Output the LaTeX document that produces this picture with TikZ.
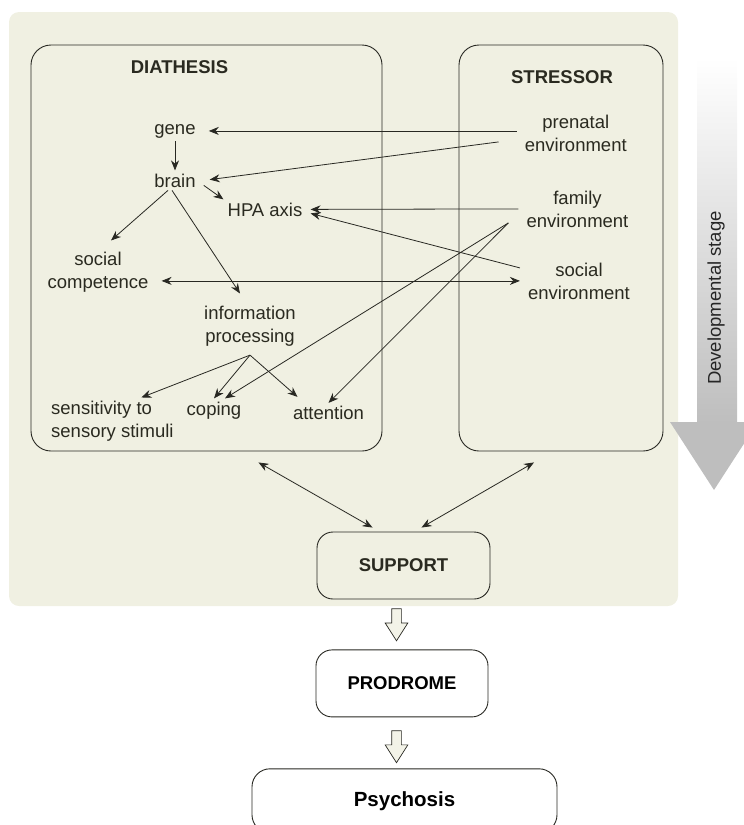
\documentclass[tikz,border=0pt]{standalone}
\usepackage{fontspec}
\setmainfont{Liberation Sans}
\usetikzlibrary{positioning,arrows.meta,shapes.arrows}

\definecolor{panel}{RGB}{240,240,226}
\definecolor{ink}{RGB}{42,42,32}
\definecolor{edge}{RGB}{40,40,34}
\definecolor{stagegray}{RGB}{190,190,190}

\tikzset{
  lbl/.style={font=\fontsize{18.5}{23}\selectfont, text=ink, inner xsep=8pt, inner ysep=3pt, align=center},
  title/.style={font=\fontsize{18.5}{23}\selectfont\bfseries, text=ink},
  frame/.style={draw=edge, line width=0.9pt, rounded corners=20pt},
  box/.style={draw=edge, line width=0.9pt, rounded corners=16pt, font=\fontsize{18.5}{23}\selectfont\bfseries},
  link/.style={draw=edge, line width=0.8pt, -{Stealth[length=10pt,width=8pt]}},
  twoway/.style={link, {Stealth[length=10pt,width=8pt]}-{Stealth[length=10pt,width=8pt]}},
  hollow/.style={single arrow, draw=edge, fill=panel!80!white, line width=0.7pt, inner sep=4.5pt,
    minimum height=32pt, minimum width=22pt, single arrow head extend=6.5pt,
    single arrow tip angle=65, shape border rotate=270}
}

\begin{document}
\begin{tikzpicture}[x=1pt, y=-1pt]
    \useasboundingbox (0,0) rectangle (744,825);
    \clip (0,0) rectangle (744,825);
    \fill[panel, rounded corners=10pt] (9,12) rectangle (678,606);

    \shade[top color=white, bottom color=stagegray] (697,58) rectangle (737,423);
    \fill[stagegray] (670,422) -- (758,422) -- (714,490) -- cycle;
    \node[rotate=90, font=\fontsize{18.5}{23}\selectfont, text=black!85] (stage) at (716,298) {Developmental stage};

    \node[frame, minimum width=351pt, minimum height=406pt] (dia) at (206.5,248) {};
    \node[frame, minimum width=204pt, minimum height=406pt] (str) at (561,248) {};
    \node[title] (dt) at (179.5,67.5) {DIATHESIS};
    \node[title] (st) at (562,77) {STRESSOR};

    \node[lbl, anchor=base] (d1) at (175,134) {gene};
    \node[lbl, anchor=base] (d2) at (175,187) {brain};
    \node[lbl, anchor=base] (d3) at (265,216) {HPA axis};
    \node[lbl] (d4) at (98,271.8) {social\\competence};
    \node[lbl] (d5) at (250,325.8) {information\\processing};
    \node[lbl, align=left, anchor=west] (d6) at (43,420.8) {sensitivity to\\sensory stimuli};
    \node[lbl, anchor=base] (d7) at (214,415) {coping};
    \node[lbl, anchor=base] (d8) at (328.5,419.5) {attention};

    \node[lbl] (s1) at (575.8,132.9) {prenatal\\environment};
    \node[lbl] (s2) at (577.5,208.9) {family\\environment};
    \node[lbl] (s3) at (579,280.9) {social\\environment};

    \coordinate (ip) at ([yshift=-6pt]d5.south);
    \coordinate (fe) at ([shift={(-10pt,-14pt)}]s2.west);

    \draw[link, shorten >=5pt] (s1.west |- d1.east) -- (d1.east);
    \draw[link, shorten >=6pt] ([shift={(-18pt,-9pt)}]s1.west) -- (d2.east);
    \draw[link] (d1.south) -- (d2.north);
    \draw[link] ([yshift=5pt]d2.south east) -- ([xshift=4pt]d3.north west);
    \draw[link] (s2.west) -- (d3.east);
    \draw[link] ([yshift=13pt]s3.west) -- ([yshift=-4pt]d3.east);
    \draw[twoway, shorten <=5pt] (d4.east |- s3.west) -- (s3.west);
    \draw[link] ([xshift=-7pt]d2.south) -- ([xshift=13pt,yshift=8pt]d4.north);
    \draw[link] ([xshift=-3pt]d2.south) -- ([xshift=-10pt,yshift=9pt]d5.north);
    \draw[link] (ip) -- ([xshift=29pt]d6.north);
    \draw[link] (ip) -- (d7.north);
    \draw[link] (ip) -- ([xshift=-31pt,yshift=6pt]d8.north);
    \draw[link] (fe) -- ([xshift=11pt]d7.north);
    \draw[link] (fe) -- (d8.north);

    \node[box, fill=panel, text=ink, minimum width=173pt, minimum height=67pt] (sup) at (403.5,565.5) {SUPPORT};
    \draw[twoway] ([shift={(52pt,-11pt)}]dia.south) -- ([shift={(-31pt,4pt)}]sup.north);
    \draw[twoway] ([shift={(-27pt,-11pt)}]str.south) -- ([shift={(18pt,4pt)}]sup.north);

    \node[hollow, anchor=tail] (a1) at ([shift={(-7pt,-9pt)}]sup.south) {};
    \node[box, fill=white, minimum width=172pt, minimum height=67pt, anchor=north] (pro) at ([shift={(5.5pt,-8pt)}]a1.tip) {PRODROME};
    \node[hollow, anchor=tail] (a2) at ([shift={(-5.5pt,-13pt)}]pro.south) {};
    \node[box, fill=white, rounded corners=18pt, minimum width=305pt, minimum height=64pt, anchor=north,
      font=\fontsize{20.5}{24}\selectfont\bfseries] (psy) at ([shift={(8pt,-5pt)}]a2.tip) {Psychosis};
\end{tikzpicture}
\end{document}
